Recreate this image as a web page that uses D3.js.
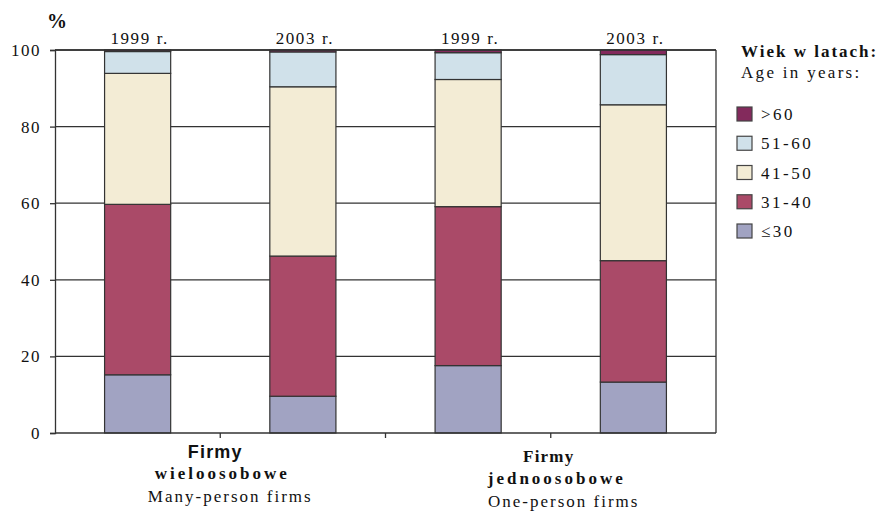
<!DOCTYPE html>
<html>
<head>
<meta charset="utf-8">
<script src="https://cdn.jsdelivr.net/npm/d3@7"></script>
<style>
  body { margin: 0; background: #fff; }
</style>
</head>
<body>
<script>
// bars, left to right
const bars = ["m1999", "m2003", "j1999", "j2003"];
const years = ["1999 r.", "2003 r.", "1999 r.", "2003 r."];
const ageGroups = ["≤30", "31-40", "41-50", "51-60", ">60"];
const colors = ["#a1a3c2", "#aa4a68", "#f3ecd5", "#d0e1ea", "#832a5c"];

// shares in % for each age group, one entry per bar
const under30 = [15.2, 9.6, 17.6, 13.3];
const age3140 = [44.5, 36.6, 41.5, 31.7];
const age4150 = [34.2, 44.2, 33.2, 40.7];
const age5160 = [5.7, 9.1, 7.0, 13.1];
const over60 = [0.4, 0.5, 0.7, 1.2];

const groupLabels = [
  ["Firmy", "wieloosobowe", "Many-person firms"],
  ["Firmy", "jednoosobowe", "One-person firms"]
];
const yTicks = [0, 20, 40, 60, 80, 100];

const SERIF = "Liberation Serif";
const width = 881, height = 511;
const margin = {left: 55, right: 165, top: 50, bottom: 78};

const rows = bars.map((b, i) => ({
  bar: b,
  "≤30": under30[i], "31-40": age3140[i], "41-50": age4150[i],
  "51-60": age5160[i], ">60": over60[i]
}));
const series = d3.stack().keys(ageGroups)(rows);

const svg = d3.select("body").append("svg")
  .attr("width", width)
  .attr("height", height);

const x = d3.scaleBand()
  .domain(bars)
  .range([margin.left, width - margin.right])
  .padding(0);

const y = d3.scaleLinear()
  .domain([0, 100])
  .range([height - margin.bottom, margin.top]);

const barW = x.bandwidth() * 0.4;

function label(sel, size, weight, spacing) {
  return sel.append("text")
    .attr("font-family", SERIF)
    .attr("font-size", size)
    .attr("font-weight", weight || "normal")
    .attr("letter-spacing", spacing || 0)
    .attr("fill", "#111");
}

// gridlines
svg.append("g")
  .selectAll("line")
  .data(yTicks.filter(d => d > 0))
  .enter().append("line")
  .attr("x1", margin.left)
  .attr("x2", width - margin.right)
  .attr("y1", d => y(d))
  .attr("y2", d => y(d))
  .attr("stroke", "#333")
  .attr("stroke-width", 1.3);

// right border
svg.append("line")
  .attr("x1", width - margin.right).attr("x2", width - margin.right)
  .attr("y1", y(100)).attr("y2", y(0))
  .attr("stroke", "#333").attr("stroke-width", 1.3);

// stacked bars
svg.append("g")
  .selectAll("g")
  .data(series)
  .enter().append("g")
  .attr("fill", (d, i) => colors[i])
  .selectAll("rect")
  .data(d => d)
  .enter().append("rect")
  .attr("x", d => x(d.data.bar) + (x.bandwidth() - barW) / 2)
  .attr("y", d => y(d[1]))
  .attr("width", barW)
  .attr("height", d => y(d[0]) - y(d[1]))
  .attr("stroke", "#333")
  .attr("stroke-width", 1.2);

// y axis
const yAxis = svg.append("g")
  .attr("transform", `translate(${margin.left},0)`)
  .call(d3.axisLeft(y).tickValues(yTicks).tickSize(5).tickPadding(9));
yAxis.select(".domain").attr("stroke", "#333").attr("stroke-width", 1.3);
yAxis.selectAll(".tick line").attr("stroke", "#333").attr("stroke-width", 1.3);
yAxis.selectAll("text")
  .attr("font-family", SERIF)
  .attr("font-size", 17)
  .attr("letter-spacing", 1.5)
  .attr("fill", "#111");

// x axis: ticks between the bars
const bounds = bars.slice(1).map(b => x(b));
const xAxis = svg.append("g")
  .attr("transform", `translate(0,${y(0)})`);
xAxis.append("line")
  .attr("x1", margin.left).attr("x2", width - margin.right)
  .attr("stroke", "#333").attr("stroke-width", 1.3);
xAxis.selectAll("line.tk")
  .data(bounds)
  .enter().append("line")
  .classed("tk", true)
  .attr("x1", d => d).attr("x2", d => d)
  .attr("y1", 0).attr("y2", 5)
  .attr("stroke", "#333").attr("stroke-width", 1.3);

// top border
svg.append("line")
  .attr("x1", margin.left).attr("x2", width - margin.right)
  .attr("y1", y(100)).attr("y2", y(100))
  .attr("stroke", "#333").attr("stroke-width", 1.3);

// year labels over bars
years.forEach((t, i) => {
  label(svg, 17, "normal", 1.6)
    .attr("x", x(bars[i]) + x.bandwidth() / 2 + 2)
    .attr("y", 44)
    .attr("text-anchor", "middle")
    .text(t);
});

// "%" unit
label(svg, 20, "bold").attr("x", 47).attr("y", 28).text("%");

// group labels under axis
const groupX = [x(bars[1]), x(bars[3])];
const groupY = [[458, 479, 502], [462, 484, 507]];
const groupShift = [[-5, 2, 10], [-2, 6, 13]];
groupLabels.forEach((lines, g) => {
  lines.forEach((t, k) => {
    label(svg, 17, k < 2 ? "bold" : "normal", [1.2, 3, 2][k])
      .attr("x", groupX[g] + groupShift[g][k])
      .attr("y", groupY[g][k])
      .attr("text-anchor", "middle")
      .attr("font-family", (g == 0 && k == 0) ? "Liberation Sans" : SERIF)
      .attr("font-size", (g == 0 && k == 0) ? 18 : 17)
      .text(t);
  });
});

// legend
label(svg, 17, "bold", 2).attr("x", 741).attr("y", 57).text("Wiek w latach:");
label(svg, 17, "normal", 2.3).attr("x", 741).attr("y", 78).text("Age in years:");

const legendItems = ageGroups.slice().reverse();
const ly = d3.scalePoint().domain(legendItems).range([114, 231]);
legendItems.forEach(d => {
  const g = svg.append("g").attr("transform", `translate(737,${ly(d)})`);
  g.append("rect")
    .attr("x", 0).attr("y", -7)
    .attr("width", 15).attr("height", 14)
    .attr("fill", colors[ageGroups.indexOf(d)])
    .attr("stroke", "#444").attr("stroke-width", 1.2);
  label(g, 17, "normal", 2.5).attr("x", 24).attr("y", 6).text(d);
});
</script>
</body>
</html>
